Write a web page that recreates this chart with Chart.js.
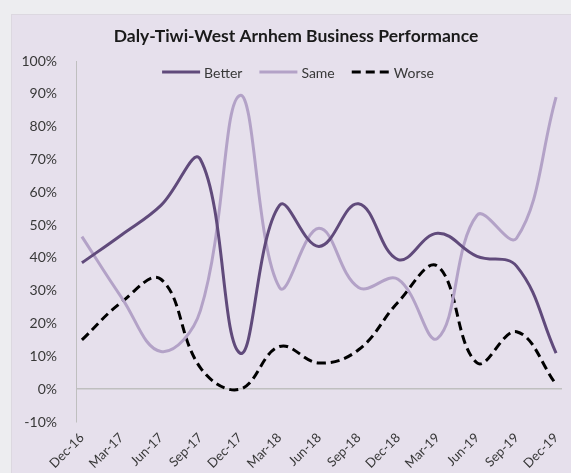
<!DOCTYPE html>
<html>
<head>
<meta charset="utf-8">
<script src="https://cdn.jsdelivr.net/npm/chart.js@4.4.1/dist/chart.umd.min.js"></script>
<style>
  html, body { margin: 0; padding: 0; background: #ededf0; width: 571px; height: 473px; overflow: hidden; }
  #panel { position: absolute; left: 11px; top: 14px; width: 560px; height: 459px; background: #e6e0ec; border-left: 1px solid #dcd8e0; border-top: 1px solid #dcd8e0; box-sizing: border-box; }
  #wrap { position: absolute; left: -18px; top: 14px; width: 580px; height: 459px; }
</style>
</head>
<body>
<div id="panel"></div>
<div id="wrap"><canvas id="c" width="580" height="459"></canvas></div>
<script>
const categories = ["Dec-16","Mar-17","Jun-17","Sep-17","Dec-17","Mar-18","Jun-18","Sep-18","Dec-18","Mar-19","Jun-19","Sep-19","Dec-19"];
const better = [38.5, 47, 56, 70, 11, 56, 43.5, 56.5, 39.5, 47.5, 40.5, 37.5, 11];
const same   = [46.5, 28, 11.5, 24, 89.5, 31, 49, 31, 33.5, 15.5, 53, 46, 89];
const worse  = [15, 26.5, 33.5, 6.5, 0, 13, 8, 12, 26.5, 37.5, 8, 17.5, 1.5];
const seriesNames = ["Better", "Same", "Worse"];
const yTicksMin = -10, yTicksMax = 100, yStep = 10;

const toPts = arr => arr.map((v, i) => ({ x: i, y: v }));
const txt = '#383838';
const centerShift = 24; // title/legend centred over the whole (wider) chart object

const legendPlugin = {
  id: 'inlineLegend',
  afterLayout(chart) {
    if (chart.titleBlock) { chart.titleBlock.left += centerShift; chart.titleBlock.right += centerShift; }
  },
  afterDraw(chart) {
    const ctx = chart.ctx;
    ctx.save();
    ctx.font = '14px Lato';
    ctx.textBaseline = 'middle';
    const sw = 38, gapT = 4, gapI = 17;
    const items = chart.data.datasets.map(d => ({ d, w: sw + gapT + ctx.measureText(d.label).width }));
    const total = items.reduce((s, it) => s + it.w, 0) + gapI * (items.length - 1);
    let x = chart.width / 2 + centerShift + 2 - total / 2;
    const y = 58;
    items.forEach(it => {
      ctx.strokeStyle = it.d.borderColor;
      ctx.lineWidth = it.d.borderWidth;
      ctx.setLineDash(it.d.borderDash || []);
      ctx.beginPath();
      ctx.moveTo(x, y);
      ctx.lineTo(x + sw, y);
      ctx.stroke();
      ctx.setLineDash([]);
      ctx.fillStyle = txt;
      ctx.fillText(it.d.label, x + sw + gapT, y + 1);
      x += it.w + gapI;
    });
    ctx.restore();
  }
};

new Chart(document.getElementById('c'), {
  type: 'line',
  data: {
    datasets: [
      { label: seriesNames[0], data: toPts(better), borderColor: '#604a7b', borderWidth: 3, pointRadius: 0, tension: 0.4, fill: false },
      { label: seriesNames[1], data: toPts(same), borderColor: '#b3a2c7', borderWidth: 3, pointRadius: 0, tension: 0.4, fill: false },
      { label: seriesNames[2], data: toPts(worse), borderColor: '#000000', borderWidth: 3, borderDash: [9, 5], pointRadius: 0, tension: 0.4, fill: false }
    ]
  },
  options: {
    responsive: false,
    animation: false,
    layout: { padding: { left: 0, right: 0, top: 0, bottom: 0 } },
    plugins: {
      legend: { display: false },
      tooltip: { enabled: false },
      title: {
        display: true,
        text: 'Daly-Tiwi-West Arnhem Business Performance',
        font: { family: 'Lato', size: 17.5, weight: 'bold' },
        color: '#1a1a1a',
        padding: { top: 12, bottom: 14 }
      }
    },
    scales: {
      x: {
        type: 'linear',
        min: -0.15,
        max: 12.15,
        afterFit: s => { s.height = 51; s.paddingLeft = 0; s.paddingRight = 0; },
        grid: { display: false },
        border: { display: false },
        ticks: {
          stepSize: 1,
          includeBounds: false,
          autoSkip: false,
          minRotation: 45,
          maxRotation: 45,
          padding: 0,
          color: txt,
          font: { family: 'Lato', size: 13 },
          callback: v => Number.isInteger(v) && categories[v] !== undefined ? categories[v] : null
        }
      },
      y: {
        min: yTicksMin,
        max: yTicksMax,
        afterFit: s => { s.width = 94; },
        border: { display: true, color: '#bfbfbf', width: 1 },
        grid: {
          drawTicks: false,
          color: c => (c.tick && c.tick.value === 0) ? '#bfbfbf' : 'rgba(0,0,0,0)',
          lineWidth: 1.5
        },
        ticks: {
          stepSize: yStep,
          padding: 19,
          color: txt,
          font: { family: 'Lato', size: 14 },
          callback: v => v + '%'
        }
      }
    }
  },
  plugins: [legendPlugin]
});
</script>
</body>
</html>
